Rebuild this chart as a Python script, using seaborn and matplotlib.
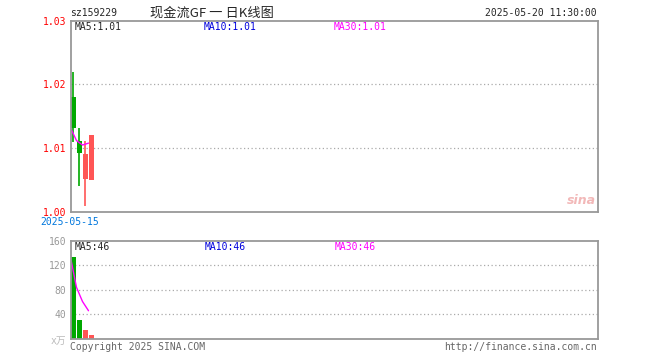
"""sina style daily k-line chart for sz159229"""

import matplotlib
matplotlib.use("Agg")
import matplotlib.pyplot as plt
import pandas as pd
import seaborn as sns

# price data, one entry per trading day
days = [0, 1, 2, 3]
opens = [1.0181, 1.0111, 1.0051, 1.0050]
closes = [1.0132, 1.0092, 1.0091, 1.0120]
highs = [1.0220, 1.0131, 1.0112, 1.0120]
lows = [1.0110, 1.0040, 1.0009, 1.0050]
ma30_price = [1.0132, 1.0112, 1.0105, 1.0108]

# volume (x万)
volumes = [133, 31, 15, 7]
ma_volume = [133, 84, 61, 46]

price_ticks = [1.00, 1.01, 1.02, 1.03]
price_labels = ["1.00", "1.01", "1.02", "1.03"]
vol_ticks = [40, 80, 120, 160]
vol_labels = ["40", "80", "120", "160"]

W, H = 660, 360
RED = "#ff5555"
GREEN = "#00a800"
FRAME = "#999999"
MONO = ["DejaVu Sans Mono", "Noto Sans CJK SC"]

sns.set_style("white")
plt.rcParams["font.family"] = MONO

fig = plt.figure(figsize=(6.6, 3.6), dpi=100)


def box(l, t, r, b):
    return [l / W, 1 - b / H, (r - l) / W, (b - t) / H]


ax = fig.add_axes(box(70.5, 20.7, 597.5, 212))
axv = fig.add_axes(box(70.5, 240.7, 597.5, 339))

for a in (ax, axv):
    a.set_xlim(0, 87.8)
    a.set_xticks([])
    for s in a.spines.values():
        s.set_color(FRAME)
        s.set_linewidth(1.3)
    a.tick_params(axis="y", length=0, pad=3, labelsize=7)

df = pd.DataFrame({"day": days, "open": opens, "close": closes,
                   "high": highs, "low": lows, "ma30": ma30_price,
                   "vol": volumes, "mavol": ma_volume})
df["color"] = [RED if c >= o else GREEN for o, c in zip(df["open"], df["close"])]

# price panel
ax.set_ylim(1.00, 1.03)
for y in price_ticks[1:-1]:
    ax.axhline(y, color="#aaaaaa", lw=0.9, ls=(0, (1, 2)), zorder=0)
ax.vlines(df["day"] + 0.4, df["low"], df["high"], colors=df["color"], lw=1.2)
ax.bar(df["day"], (df["close"] - df["open"]).abs(),
       bottom=df[["open", "close"]].min(axis=1), width=0.85, align="edge",
       color=df["color"], linewidth=0)
sns.lineplot(data=df, x="day", y="ma30", ax=ax, color="#ff00ff", lw=1)
ax.set_yticks(price_ticks, price_labels, color="red")
ax.set_xlabel("")
ax.set_ylabel("")

# volume panel
axv.set_ylim(0, 160)
for y in vol_ticks[:-1]:
    axv.axhline(y, color="#aaaaaa", lw=0.9, ls=(0, (1, 2)), zorder=0)
axv.bar(df["day"], df["vol"], width=0.85, align="edge", color=df["color"], linewidth=0)
sns.lineplot(data=df, x="day", y="mavol", ax=axv, color="#ff00ff", lw=1)
axv.set_yticks(vol_ticks, vol_labels, color="#999999")
axv.set_xlabel("")
axv.set_ylabel("")


def txt(x, y, s, **kw):
    kw.setdefault("fontsize", 7)
    kw.setdefault("va", "center")
    fig.text(x / W, 1 - y / H, s, **kw)


txt(70, 13, "sz159229")
txt(150, 13, "现金流GF 一 日K线图", fontsize=9.5,
    family=["Noto Sans CJK SC", "DejaVu Sans"])
txt(597, 13, "2025-05-20 11:30:00", ha="right")
txt(75, 27, "MA5:1.01")
txt(204, 27, "MA10:1.01", color="#0000dd")
txt(334, 27, "MA30:1.01", color="#ff00ff")
txt(40, 222, "2025-05-15", color="#0077dd")
txt(75, 247, "MA5:46")
txt(205, 247, "MA10:46", color="#0000dd")
txt(335, 247, "MA30:46", color="#ff00ff")
txt(66, 341, "x万", ha="right", color="#bbbbbb",
    family=["DejaVu Sans Mono", "Noto Sans CJK SC"])
txt(70, 347, "Copyright 2025 SINA.COM", color="#666666")
txt(597, 347, "http://finance.sina.com.cn", ha="right", color="#666666")
txt(596, 200, "sina", ha="right", color="#f2b8b8", fontsize=9,
    style="italic", weight="bold", family=["DejaVu Sans"])

fig.savefig("out.png", dpi=100)
plt.close(fig)
